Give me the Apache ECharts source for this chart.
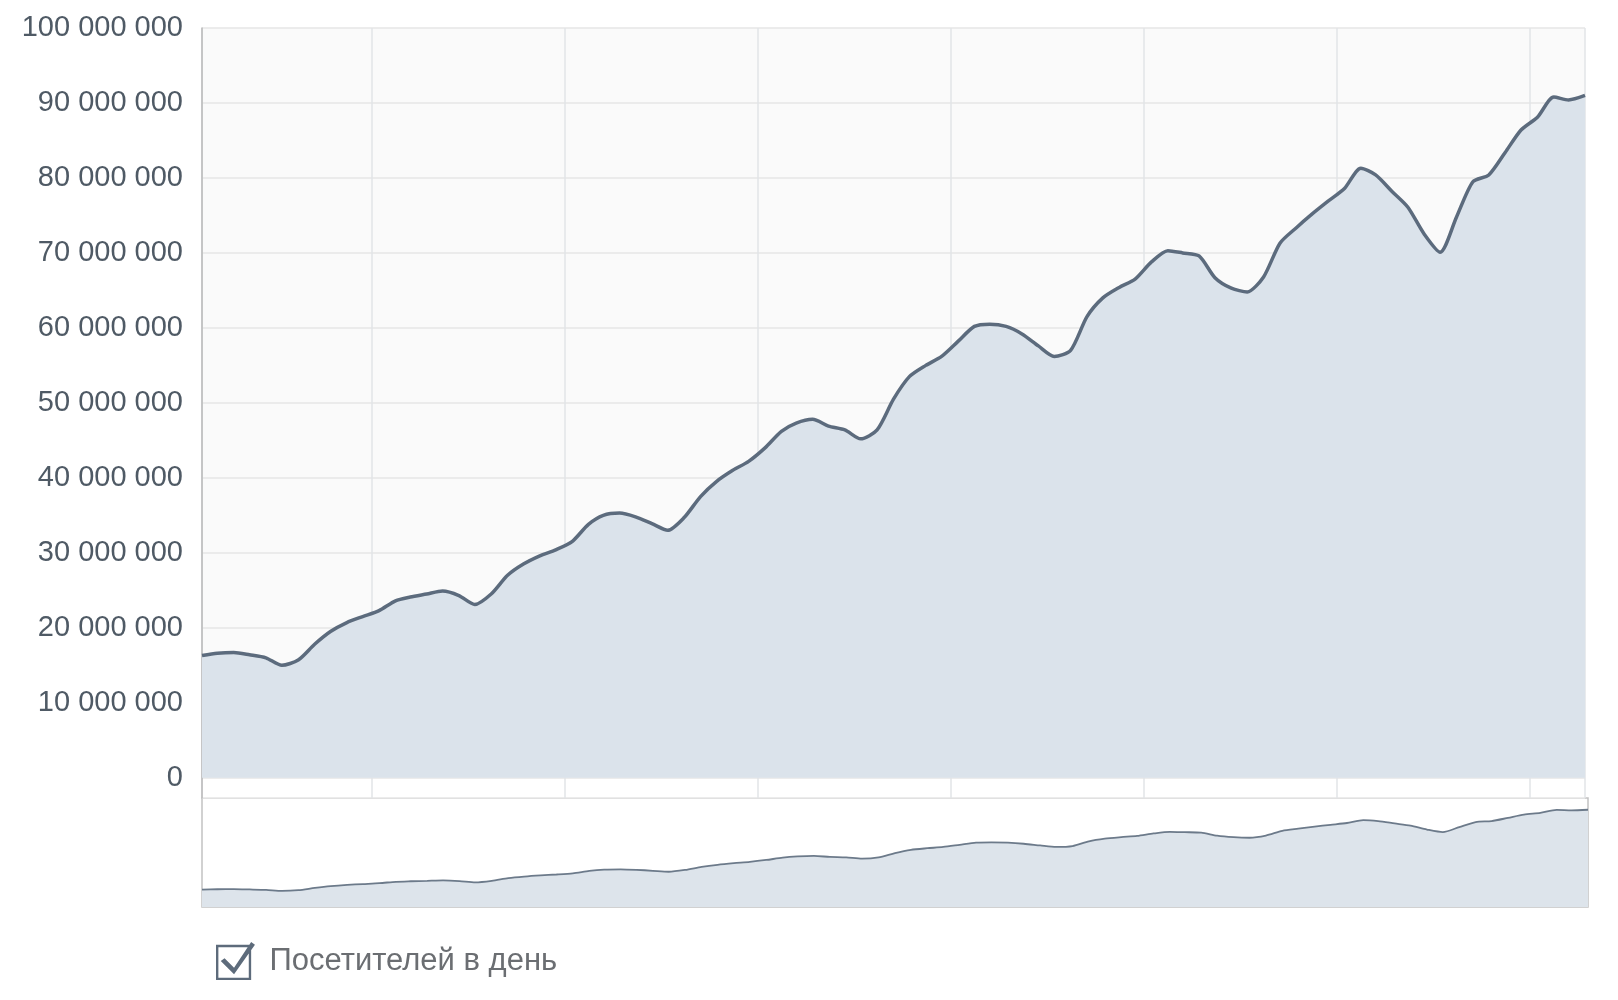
<!DOCTYPE html>
<html>
<head>
<meta charset="utf-8">
<script src="https://cdn.jsdelivr.net/npm/echarts@6/dist/echarts.min.js"></script>
<style>
html,body{margin:0;padding:0;background:#fff;}
#chart{width:1618px;height:1000px;}
</style>
</head>
<body>
<div id="chart"></div>
<script>
// Categories: monthly points (middle of month)
const months = [
  '2008-02-15','2008-03-15','2008-04-15','2008-05-15','2008-06-15','2008-07-15','2008-08-15','2008-09-15','2008-10-15','2008-11-15','2008-12-15',
  '2009-01-15','2009-02-15','2009-03-15','2009-04-15','2009-05-15','2009-06-15','2009-07-15','2009-08-15','2009-09-15','2009-10-15','2009-11-15','2009-12-15',
  '2010-01-15','2010-02-15','2010-03-15','2010-04-15','2010-05-15','2010-06-15','2010-07-15','2010-08-15','2010-09-15','2010-10-15','2010-11-15','2010-12-15',
  '2011-01-15','2011-02-15','2011-03-15','2011-04-15','2011-05-15','2011-06-15','2011-07-15','2011-08-15','2011-09-15','2011-10-15','2011-11-15','2011-12-15',
  '2012-01-15','2012-02-15','2012-03-15','2012-04-15','2012-05-15','2012-06-15','2012-07-15','2012-08-15','2012-09-15','2012-10-15','2012-11-15','2012-12-15',
  '2013-01-15','2013-02-15','2013-03-15','2013-04-15','2013-05-15','2013-06-15','2013-07-15','2013-08-15','2013-09-15','2013-10-15','2013-11-15','2013-12-15',
  '2014-01-15','2014-02-15','2014-03-15','2014-04-15','2014-05-15','2014-06-15','2014-07-15','2014-08-15','2014-09-15','2014-10-15','2014-11-15','2014-12-15',
  '2015-01-15','2015-02-15','2015-03-15','2015-04-15'
];

// Series: visitors per day
const visitors = [
  16300000,16600000,16700000,16400000,16000000,15000000,15700000,17800000,19500000,20700000,21500000,
  22300000,23600000,24100000,24500000,24900000,24300000,23100000,24500000,27000000,28500000,29600000,30400000,
  31500000,33800000,35000000,35300000,34800000,33900000,33000000,34700000,37500000,39500000,41000000,42200000,
  44000000,46200000,47300000,47800000,46900000,46400000,45200000,46400000,50500000,53500000,55000000,56200000,
  58200000,60200000,60500000,60200000,59200000,57600000,56200000,57000000,61500000,64000000,65400000,66500000,
  68800000,70300000,70000000,69600000,66700000,65300000,64800000,66800000,71300000,73300000,75200000,76900000,
  78600000,81300000,80400000,78200000,76100000,72500000,70100000,74800000,79500000,80400000,83400000,86400000,
  88100000,90800000,90400000,91000000
];

// Tick range for the value axis
const yMax = 100000000;
const yMin = -2700000;
const seriesName = 'Посетителей в день';

const pairs = months.map((m, i) => [m, visitors[i]]);

function fmt(v) {
  return String(Math.round(v)).replace(/\B(?=(\d{3})+(?!\d))/g, ' ');
}

const chart = echarts.init(document.getElementById('chart'), null, {renderer: 'canvas'});
const bandColors = ['#ffffff','#fafafa','#fafafa','#fafafa','#fafafa','#fafafa','#fafafa','#fafafa','#fafafa','#fafafa','#fafafa','#fafafa'];

chart.setOption({
  backgroundColor: '#ffffff',
  animation: false,
  grid: [
    {left: 202, right: 33, top: 28, height: 770, containLabel: false},
    {left: 202, right: 30, top: 798, height: 109, show: true, borderColor: '#c2c2c2', borderWidth: 1.5, backgroundColor: '#ffffff'}
  ],
  xAxis: [
    {
      type: 'time', gridIndex: 0,
      min: months[0], max: months[months.length - 1],
      splitNumber: 7,
      minInterval: 365 * 24 * 3600 * 1000,
      axisLine: {show: false}, axisTick: {show: false}, axisLabel: {show: false},
      splitLine: {show: true, lineStyle: {color: '#e2e4e7', width: 1.5}}
    },
    {
      type: 'time', gridIndex: 1,
      min: months[0], max: months[months.length - 1],
      axisLine: {show: false}, axisTick: {show: false}, axisLabel: {show: false},
      splitLine: {show: false}
    }
  ],
  yAxis: [
    {
      type: 'value', gridIndex: 0,
      min: yMin, max: yMax, splitNumber: 10,
      axisLine: {show: true, lineStyle: {color: '#b9b9b9', width: 1.5}},
      axisTick: {show: false},
      axisLabel: {
        showMinLabel: false,
        formatter: fmt,
        fontFamily: 'Liberation Sans, Arial, sans-serif',
        fontSize: 29, color: '#4f5a65', margin: 19
      },
      splitLine: {show: true, lineStyle: {color: '#e6e6e6', width: 1.5}},
      splitArea: {show: true, areaStyle: {color: bandColors}}
    },
    {
      type: 'value', gridIndex: 1, min: 0, max: 102000000, show: false
    }
  ],
  legend: {
    data: [seriesName],
    left: 211, top: 937,
    itemWidth: 40, itemHeight: 38,
    icon: 'path://M0,3 L37,3 L37,40 L0,40 Z M2.5,5.5 L2.5,37.5 L34.5,37.5 L34.5,5.5 Z M5,20 L9,17 L19,27 L37,0 L41,3 L19,34 Z',
    itemStyle: {color: '#5d6b7b', borderWidth: 0},
    textStyle: {
      fontFamily: 'Liberation Sans, Arial, sans-serif',
      fontSize: 31, color: '#6b6e72', padding: [0, 0, 0, 9]
    },
    selectedMode: true
  },
  series: [
    {
      name: seriesName,
      type: 'line',
      xAxisIndex: 0, yAxisIndex: 0,
      data: pairs,
      showSymbol: false,
      smooth: 0.25,
      lineStyle: {color: '#5c6b7d', width: 3.5},
      itemStyle: {color: '#5c6b7d'},
      areaStyle: {color: '#dbe3eb', opacity: 1, origin: 0},
      z: 3
    },
    {
      name: 'overview',
      type: 'line',
      xAxisIndex: 1, yAxisIndex: 1,
      data: pairs,
      showSymbol: false,
      smooth: 0.25,
      silent: true,
      lineStyle: {color: '#6c7a8a', width: 1.8},
      areaStyle: {color: '#dde4eb', opacity: 1},
      z: 3
    }
  ]
});
</script>
</body>
</html>
